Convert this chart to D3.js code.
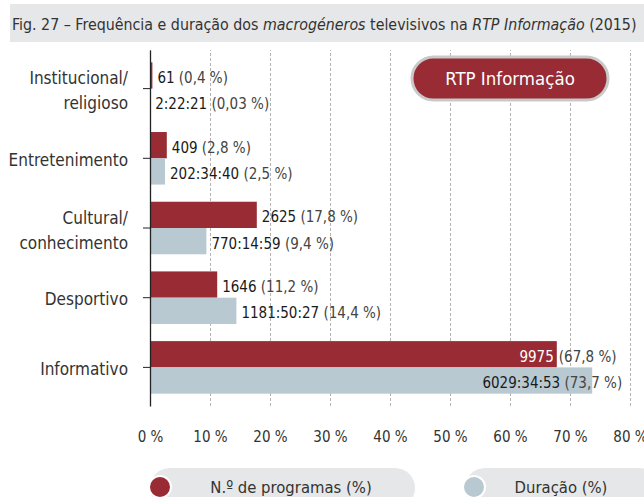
<!DOCTYPE html>
<html>
<head>
<meta charset="utf-8">
<script src="https://cdn.jsdelivr.net/npm/d3@7"></script>
<style>
body { margin: 0; background: #fff; }
svg text { font-family: "DejaVu Sans Condensed", "DejaVu Sans", sans-serif; font-stretch: condensed; fill: #333; }
</style>
</head>
<body>
<div id="chart"></div>
<script>
// DATA
const categorias = ["Institucional/\nreligioso", "Entretenimento", "Cultural/\nconhecimento", "Desportivo", "Informativo"]
const nProgramas = [61, 409, 2625, 1646, 9975]
const pctProgramas = [0.4, 2.8, 17.8, 11.2, 67.8]
const duracao = ["2:22:21", "202:34:40", "770:14:59", "1181:50:27", "6029:34:53"]
const pctDuracao = [0.03, 2.5, 9.4, 14.4, 73.7]
const xTicks = [0, 10, 20, 30, 40, 50, 60, 70, 80]
const series = ["N.º de programas (%)", "Duração (%)"]
const titulo = [
    {t: "Fig. 27 – Frequência e duração dos ", i: false},
    {t: "macrogéneros", i: true},
    {t: " televisivos na ", i: false},
    {t: "RTP Informação", i: true},
    {t: " (2015)", i: false}
]
const canal = "RTP Informação"

// CHART
const width = 644
const height = 497
const margin = {top: 50, bottom: 91, left: 150, right: 14}
const colores = ["#982b33", "#b8c9d2"]

const svg = d3.select("#chart")
    .append("svg")
    .attr("width", width)
    .attr("height", height)

// title bar
svg.append("rect")
    .attr("x", 10).attr("y", 4)
    .attr("width", width - 10).attr("height", 38)
    .attr("fill", "#e6e7e8")

const title = svg.append("text")
    .attr("x", 12).attr("y", 29.5)
    .style("font-size", "16.5px")
title.selectAll("tspan").data(titulo).join("tspan")
    .style("font-style", d => d.i ? "italic" : "normal")
    .text(d => d.t)
// ajustar el titulo al ancho de la barra
const tw = title.node().getComputedTextLength()
title.style("font-size", (16.5 * 625 / tw) + "px")

// scales
const x = d3.scaleLinear()
    .domain([0, 80])
    .range([margin.left, width - margin.right])
const y = d3.scaleBand()
    .domain(categorias)
    .range([margin.top, height - margin.bottom])
    .paddingInner(0.246)
    .paddingOuter(0.177)
const ys = d3.scaleBand()
    .domain([0, 1])
    .range([0, y.bandwidth()])

// grid + x labels
const xAxis = d3.axisBottom(x)
    .tickValues(xTicks)
    .tickSize(-(height - margin.bottom - margin.top))
    .tickPadding(25)
    .tickFormat(d => d + " %")
const xAxisGroup = svg.append("g")
    .attr("transform", `translate(0,${height - margin.bottom})`)
    .call(xAxis)
xAxisGroup.select(".domain").remove()
xAxisGroup.selectAll("line")
    .attr("stroke", "#b3b3b3")
    .attr("stroke-dasharray", "3,2")
xAxisGroup.selectAll("text")
    .style("font-size", "15px")
    .attr("fill", null)

// bars
const rows = categorias.map((c, i) => ({
    cat: c,
    vals: [
        {s: 0, pct: pctProgramas[i], num: String(nProgramas[i])},
        {s: 1, pct: pctDuracao[i], num: duracao[i]}
    ]
}))
const fmtPct = v => "(" + String(v).replace(".", ",") + " %)"

const elementGroup = svg.append("g")
const catGroup = elementGroup.selectAll("g.cat").data(rows).join("g")
    .attr("class", "cat")
    .attr("transform", d => `translate(0,${y(d.cat)})`)

catGroup.selectAll("rect").data(d => d.vals).join("rect")
    .attr("x", x(0))
    .attr("y", d => ys(d.s))
    .attr("width", d => x(d.pct) - x(0))
    .attr("height", ys.bandwidth())
    .attr("fill", d => colores[d.s])

// value labels
catGroup.each(function(r) {
    const g = d3.select(this)
    r.vals.forEach(d => {
        const ty = ys(d.s) + ys.bandwidth() / 2 + 7.5
        const t = g.append("text").attr("y", ty).style("font-size", "15px")
        if (d.pct > 50 && d.s === 0) {
            // numero dentro de la barra, porcentaje fuera
            t.attr("x", x(d.pct) - 3).attr("text-anchor", "end")
                .append("tspan").style("fill", "#fff").text(d.num)
            g.append("text").attr("y", ty).attr("x", x(d.pct) + 2)
                .style("font-size", "15px").style("fill", "#444")
                .text(fmtPct(d.pct))
        } else {
            if (d.pct > 50) {
                t.attr("x", x(d.pct) + 30).attr("text-anchor", "end")
            } else {
                t.attr("x", x(d.pct) + 5)
            }
            t.append("tspan").style("fill", "#1a1a1a").text(d.num + " ")
            t.append("tspan").style("fill", "#444").text(fmtPct(d.pct))
        }
    })
})

// y axis
const yAxis = d3.axisLeft(y).tickSize(7).tickSizeOuter(0).tickPadding(15)
const yAxisGroup = svg.append("g")
    .attr("transform", `translate(${margin.left},0)`)
    .call(yAxis)
yAxisGroup.select(".domain").attr("stroke", "#222").attr("stroke-width", 1.3)
yAxisGroup.selectAll("line").attr("stroke", "#222")
yAxisGroup.selectAll("text")
    .style("font-size", "17px")
    .attr("fill", null)
    .attr("dy", null)
    .each(function(d) {
        const lines = d.split("\n")
        const t = d3.select(this).text("")
        if (lines.length === 1) {
            t.append("tspan").attr("x", -22).attr("y", 7.5).text(lines[0])
        } else {
            t.append("tspan").attr("x", -22).attr("y", -4.5).text(lines[0])
            t.append("tspan").attr("x", -22).attr("y", 20.5).text(lines[1])
        }
    })

// channel badge
svg.append("rect")
    .attr("x", 412).attr("y", 57)
    .attr("width", 196).attr("height", 43)
    .attr("rx", 21.5)
    .attr("fill", colores[0])
    .attr("stroke", "#c9c9c9")
    .attr("stroke-width", 3)
svg.append("text")
    .attr("x", 510).attr("y", 85)
    .attr("text-anchor", "middle")
    .style("font-size", "18.5px")
    .style("fill", "#fff")
    .text(canal)

// legend
const legendPos = [
    {px: 150, pw: 265, cx: 160, tx: 291},
    {px: 465, pw: 195, cx: 474, tx: 561}
]
const legend = svg.append("g").selectAll("g").data(series).join("g")
legend.append("rect")
    .attr("x", (d, i) => legendPos[i].px).attr("y", 468)
    .attr("width", (d, i) => legendPos[i].pw).attr("height", 40)
    .attr("rx", 20)
    .attr("fill", "#e6e7e8")
legend.append("circle")
    .attr("cx", (d, i) => legendPos[i].cx).attr("cy", 487)
    .attr("r", 11)
    .attr("fill", (d, i) => colores[i])
    .attr("stroke", "#fff")
    .attr("stroke-width", 2)
legend.append("text")
    .attr("x", (d, i) => legendPos[i].tx).attr("y", 493)
    .attr("text-anchor", "middle")
    .style("font-size", "16.5px")
    .text(d => d)
</script>
</body>
</html>
